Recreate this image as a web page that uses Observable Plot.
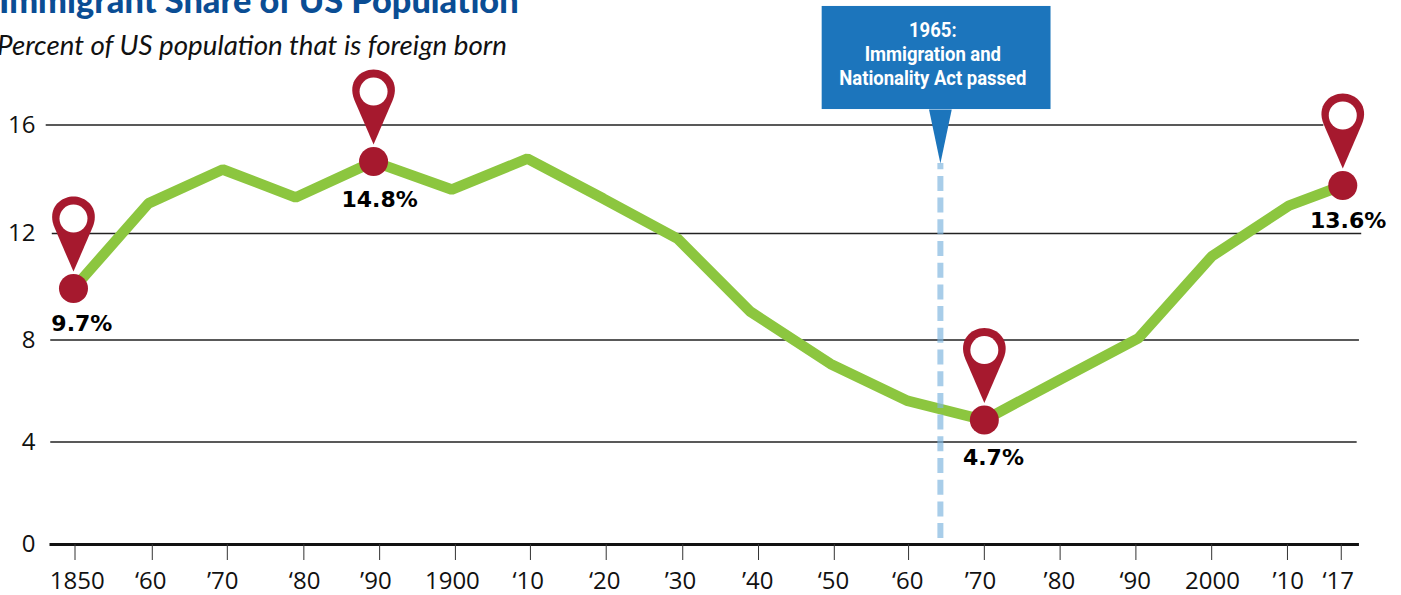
<!DOCTYPE html>
<html><head><meta charset="utf-8">
<script src="https://cdn.jsdelivr.net/npm/d3@7"></script>
<script src="https://cdn.jsdelivr.net/npm/@observablehq/plot@0.6"></script>
<style>
html,body{margin:0;padding:0;background:#fff;overflow:hidden}
#wrap{position:relative;width:1401px;height:595px;overflow:hidden}
#title{position:absolute;left:-1px;top:-19px;margin:0;font:900 34.3px/38px Lato,sans-serif;color:#0a4d94;white-space:nowrap}
#sub{position:absolute;left:-3px;top:29px;margin:0;font:italic 400 27.7px/32px Lato,sans-serif;color:#111;white-space:nowrap}
</style></head><body>
<div id="wrap">
<h1 id="title">Immigrant Share of US Population</h1>
<p id="sub">Percent of US population that is foreign born</p>
<div id="chart"></div>
</div>
<script>
const years = [1849.8,1859.7,1869.5,1879.1,1889.4,1899.7,1909.7,1919.7,1929.5,1939.1,1949.7,1959.9,1970,1980,1990.3,2000,2010.2,2017.3];
const shares = [9.93,13.11,14.36,13.33,14.65,13.62,14.76,13.29,11.81,9.07,7.06,5.61,4.86,6.45,8.06,11.14,13.03,13.77];
const tickYears = [1850,1860.2,1870.1,1880.2,1890.2,1900.2,1910.1,1920.1,1930.2,1940.2,1950.2,1960,1970,1980,1990,2000,2010,2017.1];
const labelYears = [1850.3,1860,1869.5,1880.3,1889.7,1899.8,1909.8,1919.9,1929.9,1940.1,1950.1,1959.9,1969.5,1979.9,1989.9,2000.1,2010.1,2016.7];
const tickLabels = ["1850","‘60","’70","‘80","’90","1900","‘10","‘20","’30","’40","‘50","‘60","’70","’80","‘90","2000","’10","‘17"];
const yTicks = [0,4,8,12,16];
const gridValues = [16,12,8,4];
const gridFrom = [1846.2,1847,1846.8,1846.8];
const gridTo = [2014.8,2019.8,2019.5,2019.2];
const pinYears = [1849.8,1889.4,1970,2017.3];
const pinShares = [9.93,14.65,4.86,13.77];
const pinLabels = ["9.7%","14.8%","4.7%","13.6%"];
const labelPosYears = [1850.9,1890.2,1971.2,2018];
const labelShares = [8.62,13.22,3.38,12.48];
const eventYear = 1964.2;
const eventTop = 14.58;
const eventBottom = 0.23;
const boxYears = [1948.6,1978.8];
const boxShares = [16.57,20.37];
const tailYears = [1962.7,1964.2,1965.7];
const tailShares = [16.57,14.58,16.57];
const eventLines = "1965:\nImmigration and\nNationality Act passed";

const pinShape = {draw(c){
  c.moveTo(0,-17);
  c.lineTo(-19,-61);
  c.bezierCurveTo(-27,-80,-13,-92,0,-92);
  c.bezierCurveTo(13,-92,27,-80,19,-61);
  c.closePath();
}};

const idx = years.map((_,i)=>i);
const pidx = pinYears.map((_,i)=>i);
const chart = Plot.plot({
  width:1401,height:595,marginLeft:36,marginRight:0,marginTop:0,marginBottom:51,
  style:{fontFamily:"'Open Sans',sans-serif",background:"transparent",overflow:"visible"},
  x:{type:"linear",domain:[1850,2017],range:[74.5,1340]},
  y:{type:"linear",domain:yTicks,range:[544,441.5,339.5,233,124.5]},
  marks:[
    Plot.ruleY(gridValues.map((_,i)=>i),{y:i=>gridValues[i],x1:i=>gridFrom[i],x2:i=>gridTo[i],stroke:"#222",strokeWidth:1.4}),
    Plot.ruleY([0],{x1:1846.7,x2:2019.5,stroke:"#111",strokeWidth:3}),
    Plot.axisX({ticks:tickYears,tickFormat:null,text:null,tickSize:16,stroke:"#333",label:null}),
    Plot.axisX({ticks:labelYears,tickFormat:d=>tickLabels[labelYears.indexOf(d)],tickSize:0,tickPadding:27,fontSize:24,color:"#111",stroke:null,label:null}),
    Plot.axisY({ticks:yTicks,tickSize:0,tickPadding:1,fontSize:24,color:"#111",label:null}),
    Plot.line(idx,{x:i=>years[i],y:i=>shares[i],stroke:"#8cc63f",strokeWidth:10.5,strokeLinejoin:"miter",strokeLinecap:"butt"}),
    Plot.ruleX([eventYear],{y1:eventBottom,y2:eventTop,stroke:"#7fb5de",strokeOpacity:.68,strokeWidth:6,strokeDasharray:"15 6.7"}),
    Plot.rect([0],{x1:boxYears[0],x2:boxYears[1],y1:boxShares[0],y2:boxShares[1],fill:"#1c75bc"}),
    Plot.line(tailYears.map((_,i)=>i),{x:i=>tailYears[i],y:i=>tailShares[i],fill:"#1c75bc",stroke:null}),
    Plot.text([eventLines],{className:"evt",x:1963.2,y:18.65,fill:"#fff",fontSize:21,fontWeight:700,lineHeight:1.16,fontFamily:"Roboto,sans-serif"}),
    Plot.dot(pidx,{x:i=>pinYears[i],y:i=>pinShares[i],r:14.5,fill:"#a6192e",stroke:null}),
    Plot.dot(pidx,{x:i=>pinYears[i],y:i=>pinShares[i],r:10,symbol:pinShape,fill:"#a6192e",stroke:null}),
    Plot.dot(pidx,{x:i=>pinYears[i],y:i=>pinShares[i],r:14,dy:-70,fill:"#fff",stroke:null}),
    Plot.text(pidx,{x:i=>labelPosYears[i],y:i=>labelShares[i],text:i=>pinLabels[i],fontSize:22,fontWeight:700,fill:"#000",fontFamily:"'DejaVu Sans',sans-serif"})
  ]
});
document.getElementById("chart").appendChild(chart);
chart.querySelectorAll(".evt text").forEach(t=>{
  t.setAttribute("transform",(t.getAttribute("transform")||"")+" scale(.88,1)");
});
</script>
</body></html>
